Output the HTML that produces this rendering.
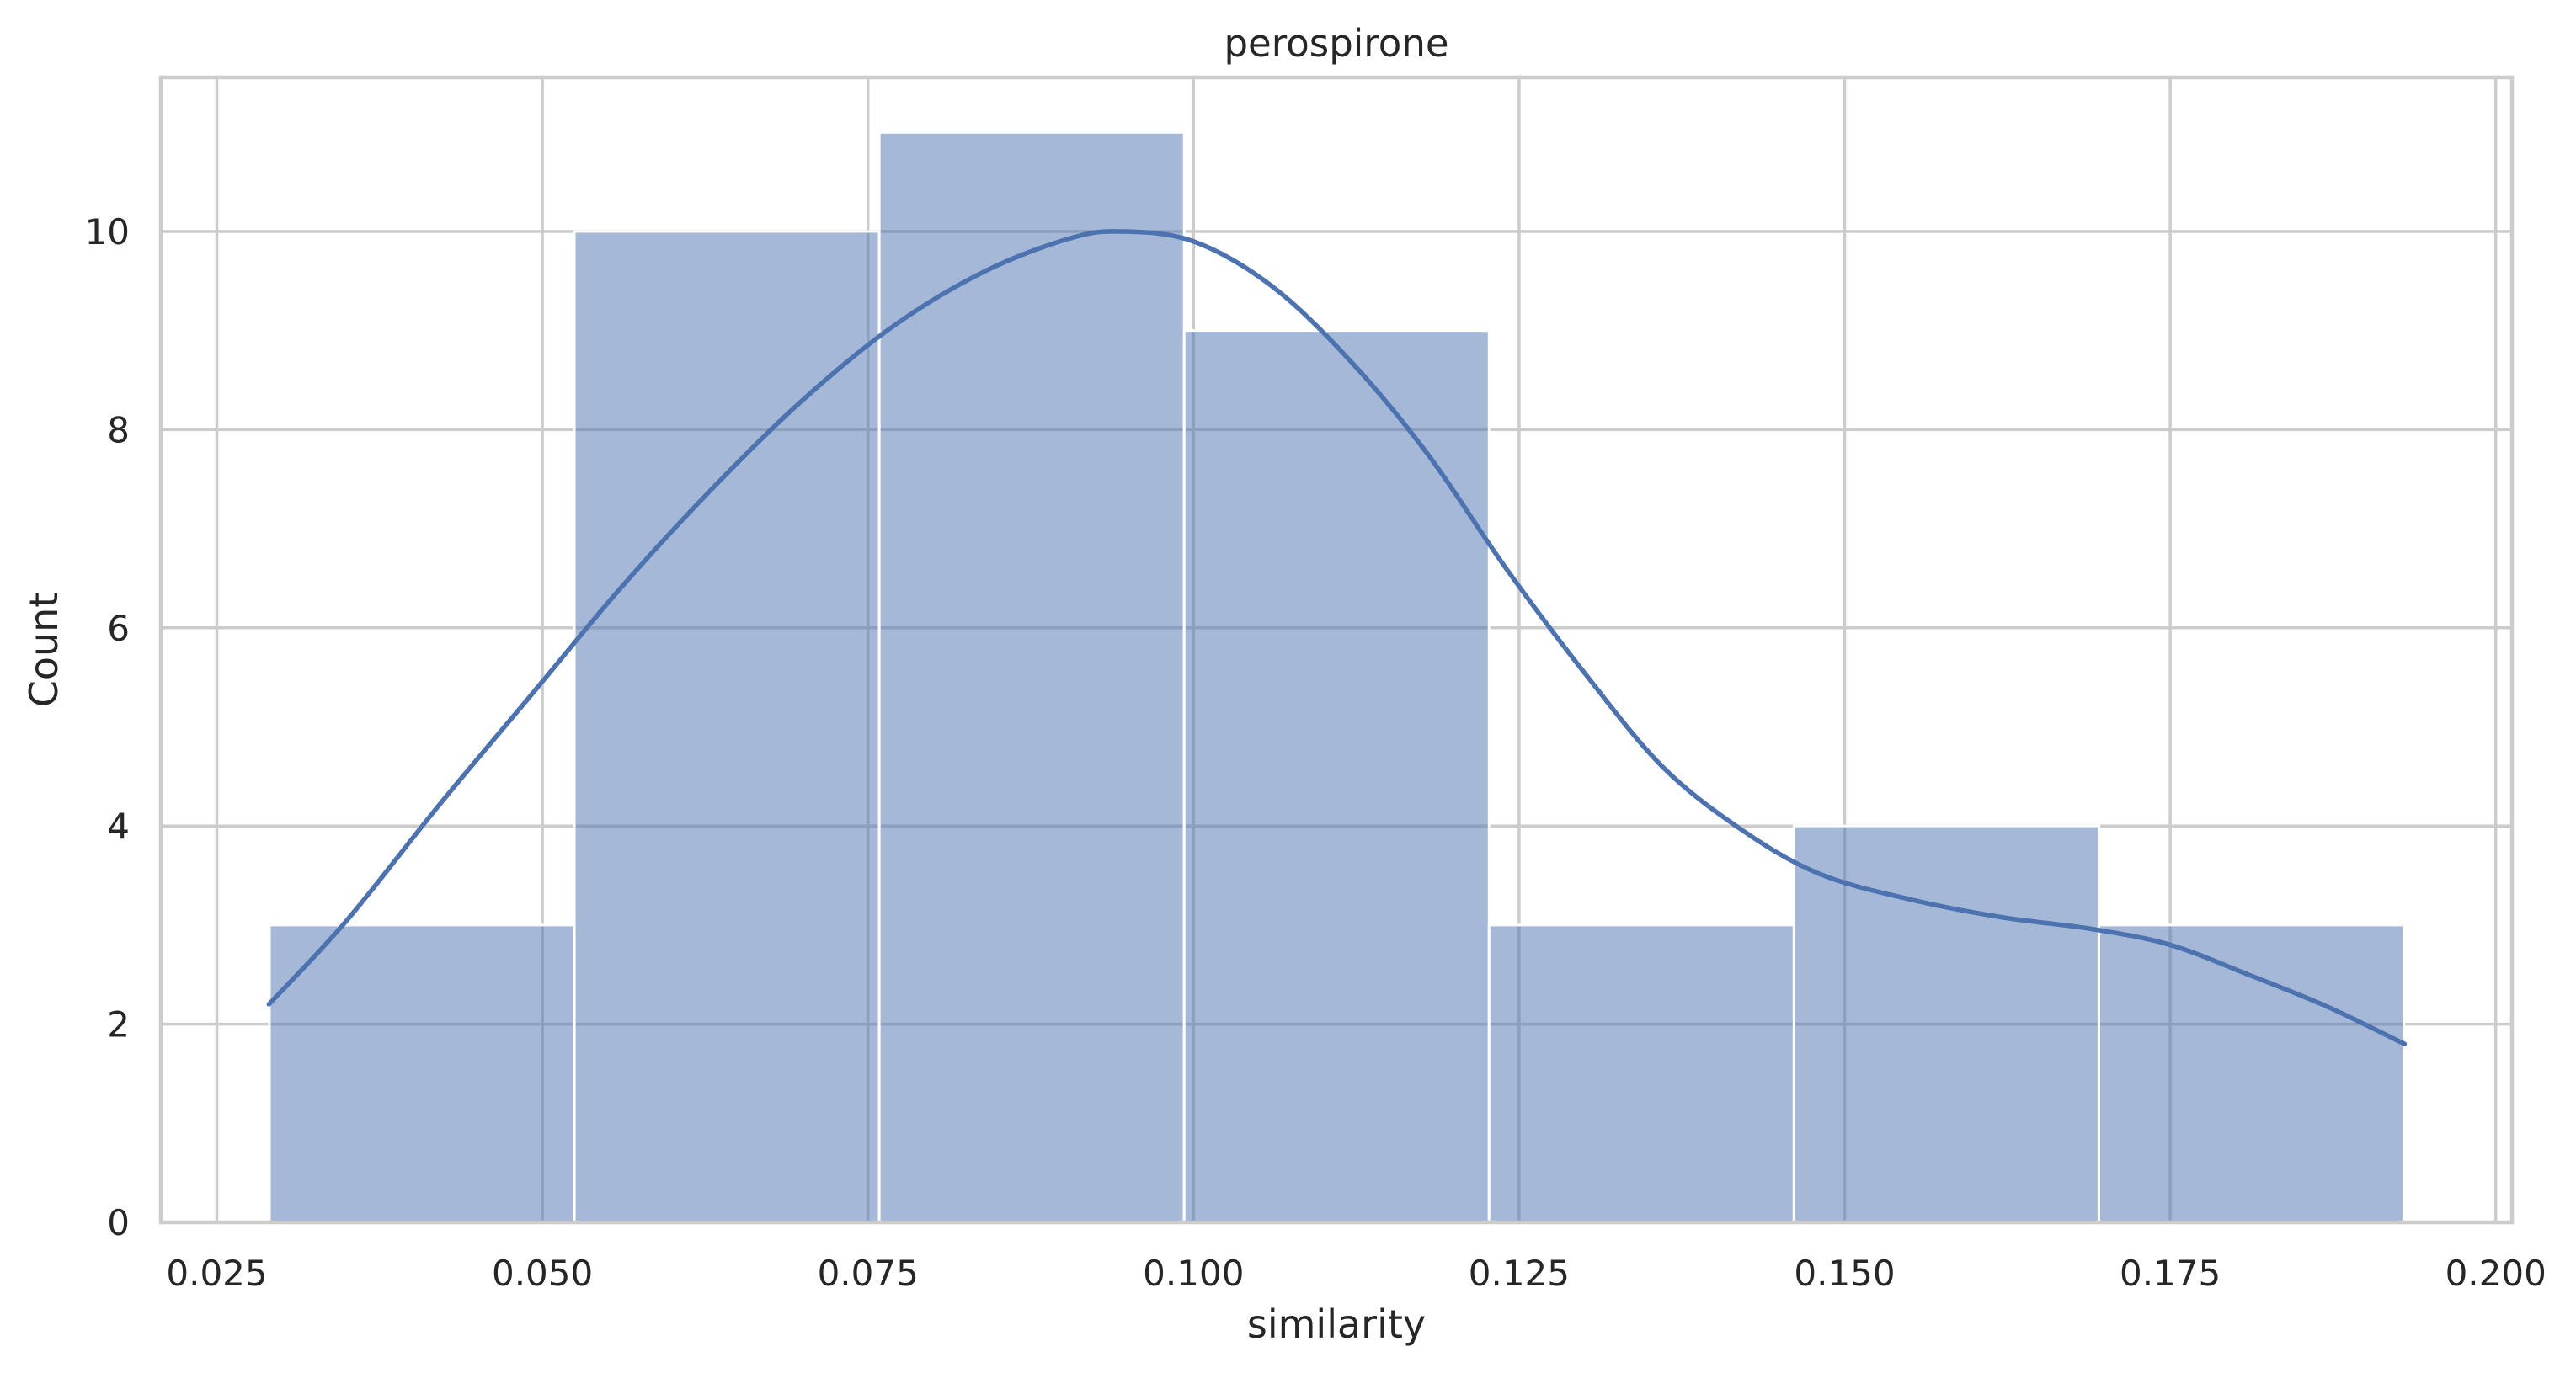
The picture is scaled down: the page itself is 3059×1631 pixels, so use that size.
<!DOCTYPE html>
<html><head><meta charset="utf-8"><style>
html,body{margin:0;padding:0;background:#fff;}
svg{display:block;font-family:"DejaVu Sans","Liberation Sans",sans-serif;}
</style></head><body>
<svg id="chart" width="3059" height="1631" viewBox="0 0 3059 1631">
<g id="grid"></g>
<g id="bars"></g>
<path id="kde" fill="none" stroke="#4c72b0" stroke-width="5.5" stroke-linejoin="round" stroke-linecap="round"/>
<rect x="191" y="92" width="2792" height="1360" fill="none" stroke="#cccccc" stroke-width="4.5"/>
<g id="xt"></g>
<g id="yt"></g>
<text x="1587" y="67" text-anchor="middle" font-size="45" fill="#262626">perospirone</text>
<text x="1587" y="1589" text-anchor="middle" font-size="46" fill="#262626">similarity</text>
<text x="68" y="772" text-anchor="middle" font-size="46" fill="#262626" transform="rotate(-90 68 772)">Count</text>
</svg>
<script>
const binStart = 0.02904;
const binEnd = 0.19294;
const counts = [3, 10, 11, 9, 3, 4, 3];
const xTicks = [0.025, 0.05, 0.075, 0.1, 0.125, 0.15, 0.175, 0.2];
const xTickLabels = ["0.025","0.050","0.075","0.100","0.125","0.150","0.175","0.200"];
const yTicks = [0, 2, 4, 6, 8, 10];
const kdeX = [0.029,0.035,0.042,0.049,0.056,0.063,0.070,0.077,0.084,0.0905,0.0945,0.100,0.106,0.112,0.118,0.124,0.130,0.136,0.142,0.148,0.155,0.162,0.169,0.175,0.181,0.187,0.193];
const kdeY = [2.2,3.05,4.2,5.3,6.4,7.4,8.3,9.05,9.6,9.93,10.0,9.9,9.45,8.7,7.75,6.6,5.55,4.6,3.97,3.52,3.26,3.08,2.96,2.8,2.5,2.18,1.8];

const NS = "http://www.w3.org/2000/svg";
const X = v => 257.5 + (v - 0.025) / 0.025 * 386.6;
const Y = v => 1452 - v * 117.7;
function mk(tag, attrs, parent){const e=document.createElementNS(NS,tag);for(const k in attrs)e.setAttribute(k,attrs[k]);parent.appendChild(e);return e;}
const grid=document.getElementById('grid'), bars=document.getElementById('bars');
xTicks.forEach((t,i)=>{
  const l=mk('line',{x1:X(t),x2:X(t),y1:92,y2:1452,stroke:'#cccccc','stroke-width':3.5},grid);
  
  
  const tx=mk('text',{x:X(t),y:1527,'text-anchor':'middle','font-size':42,fill:'#262626'},document.getElementById('xt'));
  tx.textContent=xTickLabels[i];
  
  
});
yTicks.forEach(t=>{
  const l=mk('line',{x1:191,x2:2983,y1:Y(t),y2:Y(t),stroke:'#cccccc','stroke-width':3.5},grid);
  
  
  const tx=mk('text',{x:154,y:Y(t)+15,'text-anchor':'end','font-size':42,fill:'#262626'},document.getElementById('yt'));
  tx.textContent=String(t);
  
  
});
const bw=(binEnd-binStart)/counts.length;
counts.forEach((c,i)=>{
  const x0=X(binStart+i*bw), x1=X(binStart+(i+1)*bw);
  const r=mk('rect',{x:x0,y:Y(c),width:x1-x0,height:Y(0)-Y(c),fill:'#4c72b0','fill-opacity':0.5,stroke:'#ffffff','stroke-width':3},bars);
  
  
});
const P=kdeX.map((v,i)=>[X(v),Y(kdeY[i])]);
let d='M'+P[0][0]+','+P[0][1];
for(let i=0;i<P.length-1;i++){
  const p0=P[Math.max(0,i-1)],p1=P[i],p2=P[i+1],p3=P[Math.min(P.length-1,i+2)];
  const c1=[p1[0]+(p2[0]-p0[0])/6,p1[1]+(p2[1]-p0[1])/6];
  const c2=[p2[0]-(p3[0]-p1[0])/6,p2[1]-(p3[1]-p1[1])/6];
  d+=' C'+c1+' '+c2+' '+p2;
}
document.getElementById('kde').setAttribute('d',d);
</script>
</body></html>
